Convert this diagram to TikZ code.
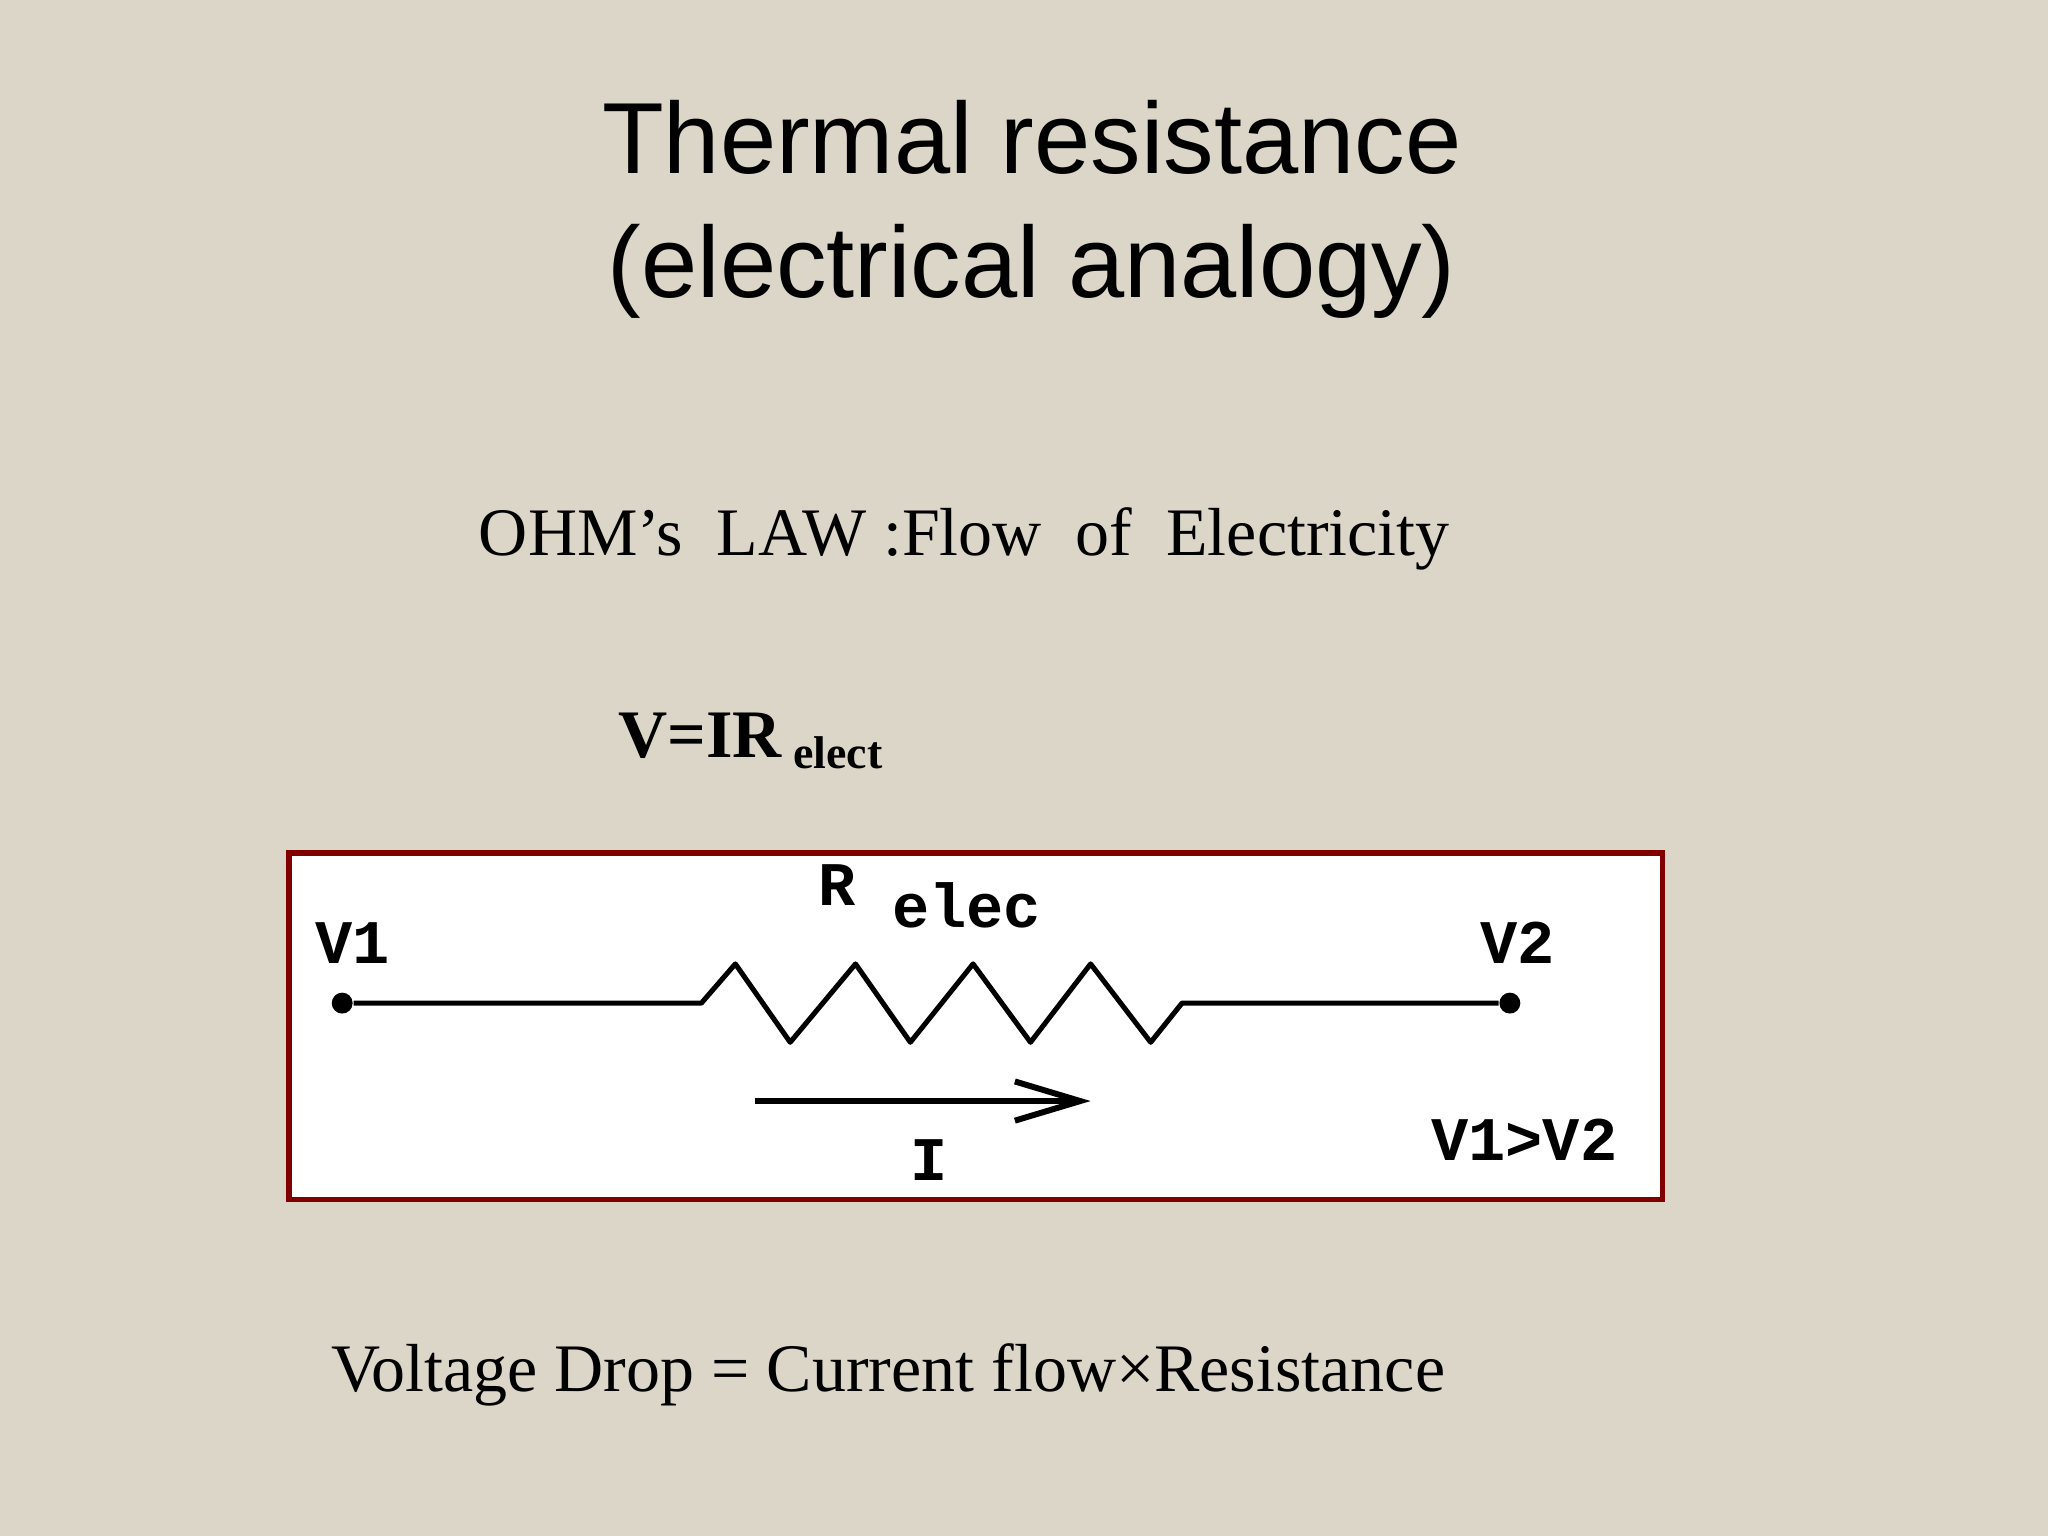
\documentclass[tikz,border=0pt]{standalone}
\usepackage{fontspec}
\setmainfont{Liberation Serif}
\newfontfamily\titlefont{Liberation Sans}
\newfontfamily\monofont{Liberation Mono}
\usetikzlibrary{arrows.meta}
\definecolor{bg}{HTML}{DCD6C8}
\definecolor{boxred}{HTML}{800000}
\begin{document}
\begin{tikzpicture}[x=0.01cm,y=-0.01cm,
  lbl/.style={font=\monofont\bfseries\fontsize{13.5}{13}\selectfont, inner sep=0},
  wire/.style={line width=1.1pt, line join=round},
  dotc/.style={circle, fill=black, inner sep=0, minimum size=0.16cm}]
\fill[bg] (0,0) rectangle (1568,1176);
\useasboundingbox (0,0) rectangle (1568,1176);
\node[font=\titlefont\fontsize{22}{27}\selectfont, align=center, anchor=center] (title) at (790,160) {Thermal resistance\\(electrical analogy)};
\node[font=\fontsize{14.8}{16}\selectfont, anchor=base west, inner sep=0] (ohm) at (366,425) {OHM’s\ \ LAW :Flow\ \ of\ \ Electricity};
\node[font=\bfseries\fontsize{14.8}{16}\selectfont, anchor=base west, inner sep=0] (vir) at (473,580) {V=IR\,\raisebox{-0.35ex}{\fontsize{10}{10}\selectfont elect}};
\node[draw=boxred, fill=white, line width=1.2pt, minimum width=10.51cm, minimum height=2.65cm, anchor=north west, inner sep=0] (box) at (219,651) {};
\node[dotc] (d1) at (262,768) {};
\node[dotc] (d2) at (1156,768) {};
\coordinate (r1) at (537,768);
\coordinate (r2) at (905,768);
\draw[wire] (d1) -- (r1) -- (563,738) -- (605,798) -- (655,738) -- (697,798) -- (745,738) -- (789,798) -- (835,738) -- (881,798) -- (r2) -- (d2);
\coordinate (a1) at (578,843);
\coordinate (a2) at (835,843);
\draw[line width=1.3pt, -{Straight Barb[length=0.5cm,width=0.3cm,line width=1.3pt]}] (a1) -- (a2);
\node[lbl] (v1) at (270,722) {V1};
\node[lbl] (v2) at (1162,722) {V2};
\node[lbl] (rr) at (641,678) {R};
\node[lbl] (el) at (740,693) {elec};
\node[lbl] (ii) at (711,888) {I};
\node[lbl] (vv) at (1167,873) {V1>V2};
\node[font=\fontsize{14.8}{16}\selectfont, anchor=base west, inner sep=0] (vd) at (253,1065) {Voltage Drop = Current flow×Resistance};
\end{tikzpicture}
\end{document}
